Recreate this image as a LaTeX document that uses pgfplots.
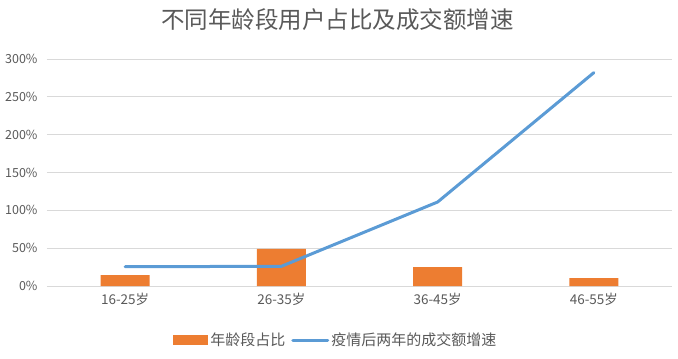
\documentclass[border=0pt]{standalone}
\usepackage{fontspec}
\setmainfont{Noto Sans CJK SC}
\usepackage{pgfplots}
\pgfplotsset{compat=1.18}
\definecolor{ored}{HTML}{ED7D31}
\definecolor{lblue}{HTML}{5B9BD5}
\definecolor{gridc}{HTML}{D9D9D9}
\definecolor{txt}{HTML}{595959}
\begin{document}
\begin{tikzpicture}[x=1pt,y=1pt]
\path[use as bounding box] (-47,-73) rectangle (631,286);
\begin{axis}[
  at={(0,0)}, anchor=south west,
  scale only axis, width=625pt, height=227pt,
  xmin=-0.5, xmax=3.5, ymin=0, ymax=300,
  axis line style={draw=none},
  ymajorgrids, grid style={gridc, line width=0.8pt},
  ytick={0,50,100,150,200,250,300},
  yticklabels={0\%,50\%,100\%,150\%,200\%,250\%,300\%},
  xtick={0,1,2,3},
  xticklabels={16-25岁,26-35岁,36-45岁,46-55岁},
  major tick length=0pt,
  tick label style={font=\fontsize{12.5}{14}\selectfont, text=txt},
  xticklabel style={font=\fontsize{13.5}{15}\selectfont, yshift=-4pt},
  yticklabel style={xshift=-6pt},
  legend style={at={(0.462,-0.238)}, anchor=center, draw=none, fill=none,
    legend columns=-1, font=\fontsize{15}{17}\selectfont, text=txt,
    /tikz/every even column/.append style={column sep=4pt}},
]
\addplot[ybar, bar width=49pt, fill=ored, draw=none,
  legend image code/.code={\fill[ored] (0pt,-5pt) rectangle (35pt,5pt);}]
  coordinates {(0,14.5) (1,49) (2,25) (3,10.5)};
\addlegendentry{年龄段占比}
\addplot[lblue, line width=3pt, line join=round, line cap=round,
  legend image code/.code={\draw[lblue, line width=3pt, line cap=round] (0pt,0pt) -- (35pt,0pt);}]
  coordinates {(0,25.5) (1,26) (2,111) (3,282)};
\addlegendentry{疫情后两年的成交额增速}
\end{axis}
\node[text=txt, font=\fontsize{23.5}{27}\selectfont] at (290.5,266) {不同年龄段用户占比及成交额增速};
\end{tikzpicture}
\end{document}
